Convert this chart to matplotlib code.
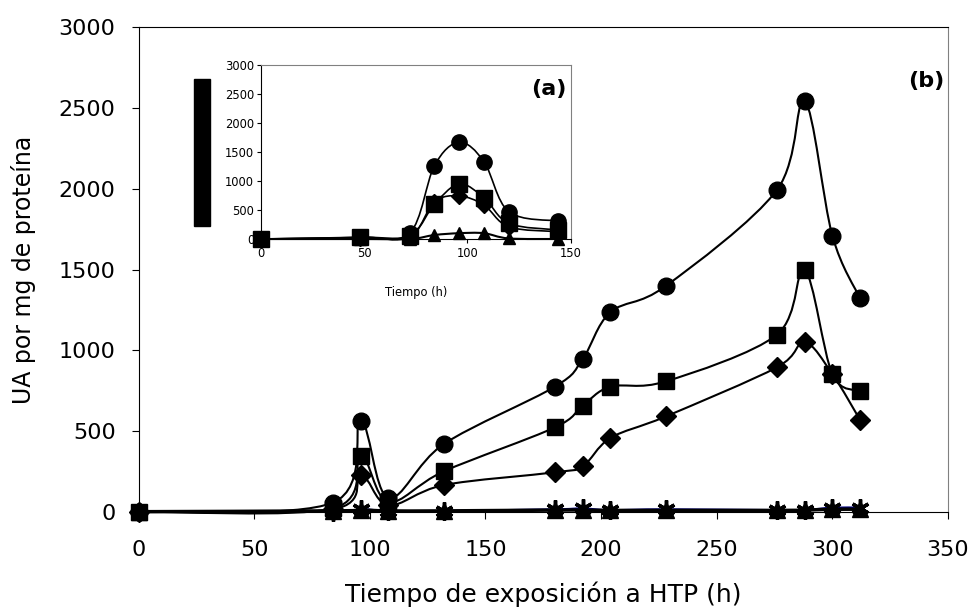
import numpy as np
import matplotlib
matplotlib.use("Agg")
import matplotlib.pyplot as plt
from matplotlib.path import Path
from matplotlib.patches import PathPatch, Rectangle

plt.rcParams['font.family'] = ['DejaVu Sans']

# datos grafico principal (b)
t_b = [0, 84, 96, 108, 132, 180, 192, 204, 228, 276, 288, 300, 312]
circ_b = [0, 56, 563, 85, 419, 774, 945, 1235, 1398, 1992, 2545, 1709, 1321]
sq_b = [0, 20, 345, 60, 250, 522, 656, 774, 807, 1096, 1497, 852, 749]
diam_b = [0, 15, 227, 40, 165, 244, 281, 456, 590, 894, 1049, 852, 568]
tri_b = [0, 5, 10, 5, 5, 10, 10, 8, 8, 8, 10, 15, 15]
star_b = [0, 0, 15, 5, 5, 15, 20, 10, 15, 10, 10, 25, 25]

# datos grafico insertado (a)
t_a = [0, 48, 72, 84, 96, 108, 120, 144]
circ_a = [0, 30, 100, 1264, 1667, 1333, 471, 310]
sq_a = [0, 30, 60, 603, 948, 713, 270, 155]
diam_a = [0, 20, 40, 640, 741, 586, 210, 126]
tri_a = [0, 0, 0, 69, 100, 100, 10, 0]

x_ticks_b = [0, 50, 100, 150, 200, 250, 300, 350]
y_ticks = [0, 500, 1000, 1500, 2000, 2500, 3000]
x_ticks_a = [0, 50, 100, 150]


def smooth(ax, x, y, **kw):
    # linea suavizada tipo Excel (Bezier)
    x = np.asarray(x, float)
    y = np.asarray(y, float)
    n = len(x)
    verts = [(x[0], y[0])]
    codes = [Path.MOVETO]
    for i in range(n - 1):
        i0 = max(i - 1, 0)
        i3 = min(i + 2, n - 1)
        c1 = (x[i] + (x[i + 1] - x[i0]) / 6, y[i] + (y[i + 1] - y[i0]) / 6)
        c2 = (x[i + 1] - (x[i3] - x[i]) / 6, y[i + 1] - (y[i3] - y[i]) / 6)
        verts += [c1, c2, (x[i + 1], y[i + 1])]
        codes += [Path.CURVE4] * 3
    ax.add_patch(PathPatch(Path(verts, codes), fill=False, clip_on=False, **kw))


fig = plt.figure(figsize=(9.75, 6.08), dpi=100)

# ---- grafico principal
ax = fig.add_axes([138.5 / 975, 1 - 511.7 / 608, (948 - 138.5) / 975, (511.7 - 27.3) / 608])
smooth(ax, t_b, star_b, color='#000080', lw=1.5, zorder=2)
smooth(ax, t_b, tri_b, color='black', lw=2.5, zorder=2)
smooth(ax, t_b, diam_b, color='black', lw=1.5, zorder=2)
smooth(ax, t_b, sq_b, color='black', lw=1.5, zorder=2)
smooth(ax, t_b, circ_b, color='black', lw=1.5, zorder=2)
ax.plot(t_b, tri_b, ls='none', marker='^', ms=11, color='black', clip_on=False, zorder=3)
ax.plot(t_b, star_b, ls='none', marker=(6, 2, 0), ms=13, mew=2.5, color='black', clip_on=False, zorder=3)
ax.plot(t_b, diam_b, ls='none', marker='D', ms=10, color='black', clip_on=False, zorder=4)
ax.plot(t_b, sq_b, ls='none', marker='s', ms=12, color='black', clip_on=False, zorder=4)
ax.plot(t_b, circ_b, ls='none', marker='o', ms=12, color='black', clip_on=False, zorder=4)

ax.set_xlim(0, 350)
ax.set_ylim(0, 3000)
ax.set_xticks(x_ticks_b)
ax.set_yticks(y_ticks)
ax.tick_params(direction='out', length=5, width=0.8, labelsize=16, colors='black')
ax.tick_params(axis='x', pad=15.5)
ax.tick_params(axis='y', pad=11.5)
ax.spines['right'].set_color('#808080')
for s in ax.spines.values():
    s.set_linewidth(0.8)
ax.set_xlabel('Tiempo de exposición a HTP (h)', fontsize=18, labelpad=15)
ax.set_ylabel('UA por mg de proteína', fontsize=17, labelpad=16)
ax.text(0.996, 0.889, '(b)', transform=ax.transAxes, ha='right', va='center',
        fontsize=16, fontweight='bold')

# ---- grafico insertado
ai = fig.add_axes([261 / 975, 1 - 239 / 608, 309.7 / 975, 174 / 608])
smooth(ai, t_a, tri_a, color='black', lw=1.5, zorder=2)
smooth(ai, t_a, diam_a, color='black', lw=1.2, zorder=2)
smooth(ai, t_a, sq_a, color='black', lw=1.2, zorder=2)
smooth(ai, t_a, circ_a, color='black', lw=1.2, zorder=2)
ai.plot(t_a, tri_a, ls='none', marker='^', ms=9, color='black', clip_on=False, zorder=3)
ai.plot(t_a, diam_a, ls='none', marker='D', ms=8, color='black', clip_on=False, zorder=4)
ai.plot(t_a, sq_a, ls='none', marker='s', ms=11, color='black', clip_on=False, zorder=4)
ai.plot(t_a, circ_a, ls='none', marker='o', ms=11, color='black', clip_on=False, zorder=4)
ai.set_xlim(0, 150)
ai.set_ylim(0, 3000)
ai.set_xticks(x_ticks_a)
ai.set_yticks(y_ticks)
ai.tick_params(direction='out', length=3, width=0.8, labelsize=8.3, pad=2)
ai.tick_params(axis='x', pad=2.5)
ai.spines['right'].set_color('#808080')
ai.spines['top'].set_color('#808080')
for s in ai.spines.values():
    s.set_linewidth(0.8)
ai.set_xlabel('Tiempo (h)', fontsize=8.3, labelpad=19)
ai.text(0.988, 0.862, '(a)', transform=ai.transAxes, ha='right', va='center',
        fontsize=16, fontweight='bold')

# etiqueta del eje y del insertado (bloque negro)
fig.patches.append(Rectangle((194 / 975, 1 - 225.7 / 608), 16 / 975, 146.7 / 608,
                             transform=fig.transFigure, color='black'))

fig.savefig('out.png', dpi=100)
